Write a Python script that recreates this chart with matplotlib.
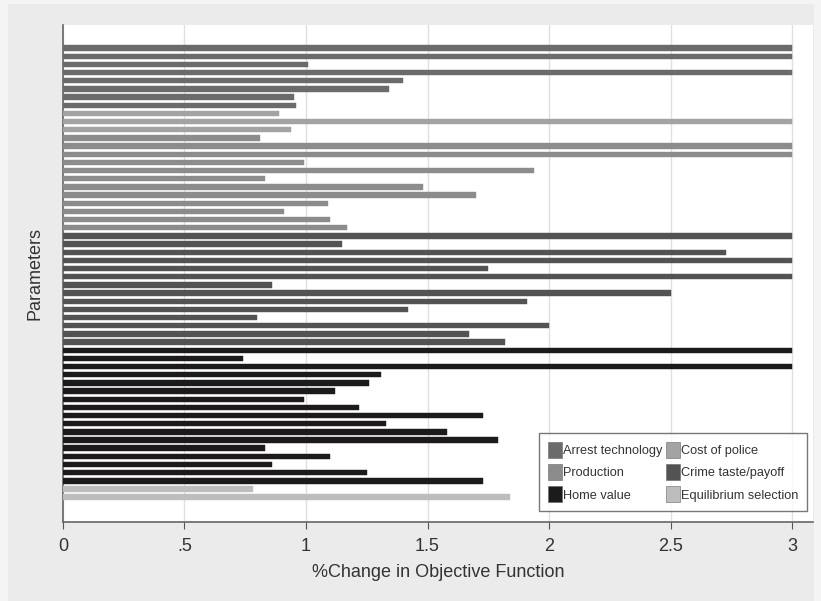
import matplotlib
matplotlib.use('Agg')
import matplotlib.pyplot as plt
from matplotlib.patches import Patch, Rectangle

plt.rcParams['font.family'] = ['Liberation Sans', 'DejaVu Sans']

# bar values, top to bottom (capped at 3)
arrest     = [3.0, 3.0, 1.01, 3.0, 1.40, 1.34, 0.95, 0.96]
police     = [0.89, 3.0, 0.94]
production = [0.81, 3.0, 3.0, 0.99, 1.94, 0.83, 1.48, 1.70,
              1.09, 0.91, 1.10, 1.17]
crime      = [3.0, 1.15, 2.73, 3.0, 1.75, 3.0, 0.86, 2.50,
              1.91, 1.42, 0.80, 2.00, 1.67, 1.82]
home       = [3.0, 0.74, 3.0, 1.31, 1.26, 1.12, 0.99, 1.22,
              1.73, 1.33, 1.58, 1.79, 0.83, 1.10, 0.86, 1.25, 1.73]
equil      = [0.78, 1.84]

groups = [('Arrest technology',   arrest,     '#6b6b6b'),
          ('Cost of police',      police,     '#a3a3a3'),
          ('Production',          production, '#8c8c8c'),
          ('Crime taste/payoff',  crime,      '#535353'),
          ('Home value',          home,       '#1c1a1b'),
          ('Equilibrium selection', equil,    '#bdbdbd')]

xticks      = [0, 0.5, 1, 1.5, 2, 2.5, 3]
xticklabels = ['0', '.5', '1', '1.5', '2', '2.5', '3']

fig = plt.figure(figsize=(8.21, 6.01), dpi=100, facecolor='#f4f4f4')
# inner grey panel (Stata graph region), kept behind the axes
fig.patches.append(Rectangle((0.01, 0.0), 0.982, 0.994, transform=fig.transFigure,
                             facecolor='#ebebeb', edgecolor='none', zorder=-10))
ax = fig.add_axes([0.0767, 0.132, 0.9135, 0.826])
ax.set_facecolor('white')

handles = {}
pos = 0
for name, vals, col in groups:
    ys = list(range(pos, pos + len(vals)))
    ax.barh(ys, vals, height=0.66, color=col, edgecolor=col,
            linewidth=0.3, zorder=3)
    handles[name] = Patch(facecolor=col, edgecolor='#666666', linewidth=0.4)
    pos += len(vals)

ax.set_ylim(pos - 1 + 3.0, -2.8)
ax.set_xlim(0, 3.086)
ax.set_xticks(xticks)
ax.set_xticklabels(xticklabels, fontsize=13, color='#333333')
ax.set_yticks([])
ax.grid(axis='x', color='#e0e0e0', linewidth=1.0, zorder=0)
ax.tick_params(axis='x', direction='out', length=5, width=0.8,
               color='#555555', pad=7)

for s in ['top', 'right']:
    ax.spines[s].set_visible(False)
for s in ['left', 'bottom']:
    ax.spines[s].set_color('#666666')
    ax.spines[s].set_linewidth(1.2)

ax.set_xlabel('%Change in Objective Function', fontsize=13,
              color='#333333', labelpad=6)
ax.set_ylabel('Parameters', fontsize=13, color='#333333', labelpad=14)

order = ['Arrest technology', 'Production', 'Home value',
         'Cost of police', 'Crime taste/payoff', 'Equilibrium selection']
leg = ax.legend([handles[n] for n in order], order, ncol=2,
                loc='lower right', bbox_to_anchor=(1.001, 0.008),
                fontsize=9.2, frameon=True, fancybox=False,
                handlelength=1.1, handleheight=1.55, handletextpad=0.1,
                columnspacing=0.25, labelspacing=0.5, borderpad=0.7)
leg.get_frame().set_edgecolor('#555555')
leg.get_frame().set_linewidth(1.0)
for t in leg.get_texts():
    t.set_color('#333333')

fig.savefig('out.png', dpi=100, facecolor=fig.get_facecolor())
